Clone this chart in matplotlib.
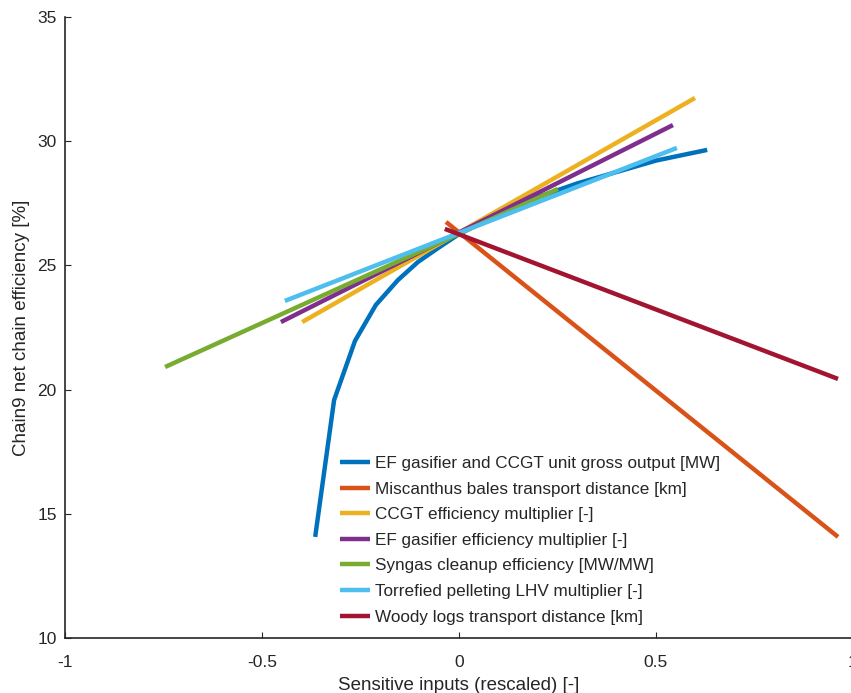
import matplotlib.pyplot as plt

plt.rcParams['font.family'] = ['Liberation Sans', 'DejaVu Sans']
plt.rcParams['axes.unicode_minus'] = False

# series (x rescaled input, y net chain efficiency %)
ef_gross_x = [-0.365, -0.317, -0.264, -0.211, -0.155, -0.104, -0.053, 0.0,
              0.1, 0.2, 0.3, 0.4, 0.5, 0.63]
ef_gross_y = [14.07, 19.58, 21.96, 23.41, 24.41, 25.14, 25.70, 26.26,
              27.05, 27.75, 28.30, 28.76, 29.22, 29.65]
misc_x = [-0.033, 0.962]
misc_y = [26.75, 14.07]
ccgt_x = [-0.398, 0.599]
ccgt_y = [22.72, 31.74]
ef_eff_x = [-0.452, 0.543]
ef_eff_y = [22.72, 30.65]
syngas_x = [-0.746, 0.251]
syngas_y = [20.91, 28.08]
torr_x = [-0.442, 0.553]
torr_y = [23.57, 29.73]
woody_x = [-0.036, 0.962]
woody_y = [26.47, 20.43]

labels = ["EF gasifier and CCGT unit gross output [MW]",
          "Miscanthus bales transport distance [km]",
          "CCGT efficiency multiplier [-]",
          "EF gasifier efficiency multiplier [-]",
          "Syngas cleanup efficiency [MW/MW]",
          "Torrefied pelleting LHV multiplier [-]",
          "Woody logs transport distance [km]"]
colors = ["#0072BD", "#D95319", "#EDB120", "#7E2F8E", "#77AC30", "#4DBEEE", "#A2142F"]
xs = [ef_gross_x, misc_x, ccgt_x, ef_eff_x, syngas_x, torr_x, woody_x]
ys = [ef_gross_y, misc_y, ccgt_y, ef_eff_y, syngas_y, torr_y, woody_y]

W, H = 851, 693
fig = plt.figure(figsize=(W / 100, H / 100), dpi=100)
ax = fig.add_axes([65 / W, (H - 638) / H, 788 / W, 621 / H])

for x, y, c, lab in zip(xs, ys, colors, labels):
    ax.plot(x, y, color=c, lw=3.2, label=lab, solid_capstyle='butt')

ax.set_xlim(-1, 1)
ax.set_ylim(10, 35)
ax.set_xticks([-1, -0.5, 0, 0.5, 1])
ax.set_xticklabels(['-1', '-0.5', '0', '0.5', '1'])
ax.set_yticks([10, 15, 20, 25, 30, 35])
for s in ['top', 'right']:
    ax.spines[s].set_visible(False)
for s in ['left', 'bottom']:
    ax.spines[s].set_color('#262626')
    ax.spines[s].set_linewidth(1.2)
ax.tick_params(direction='in', length=4, width=0.8, colors='#262626', labelsize=12.5)
ax.tick_params(axis='x', pad=12)
ax.tick_params(axis='y', pad=6)
ax.set_xlabel("Sensitive inputs (rescaled) [-]", fontsize=13.5, color='#262626', labelpad=5)
ax.set_ylabel("Chain9 net chain efficiency [%]", fontsize=13.5, color='#262626', labelpad=5)

leg = ax.legend(loc='upper left', bbox_to_anchor=(340 / W, (H - 456) / H),
                bbox_transform=fig.transFigure, frameon=False, fontsize=12.3,
                handlelength=1.75, handletextpad=0.3, labelspacing=0.62,
                borderpad=0, borderaxespad=0)
for t in leg.get_texts():
    t.set_color('#262626')

fig.savefig("out.png", dpi=100)
